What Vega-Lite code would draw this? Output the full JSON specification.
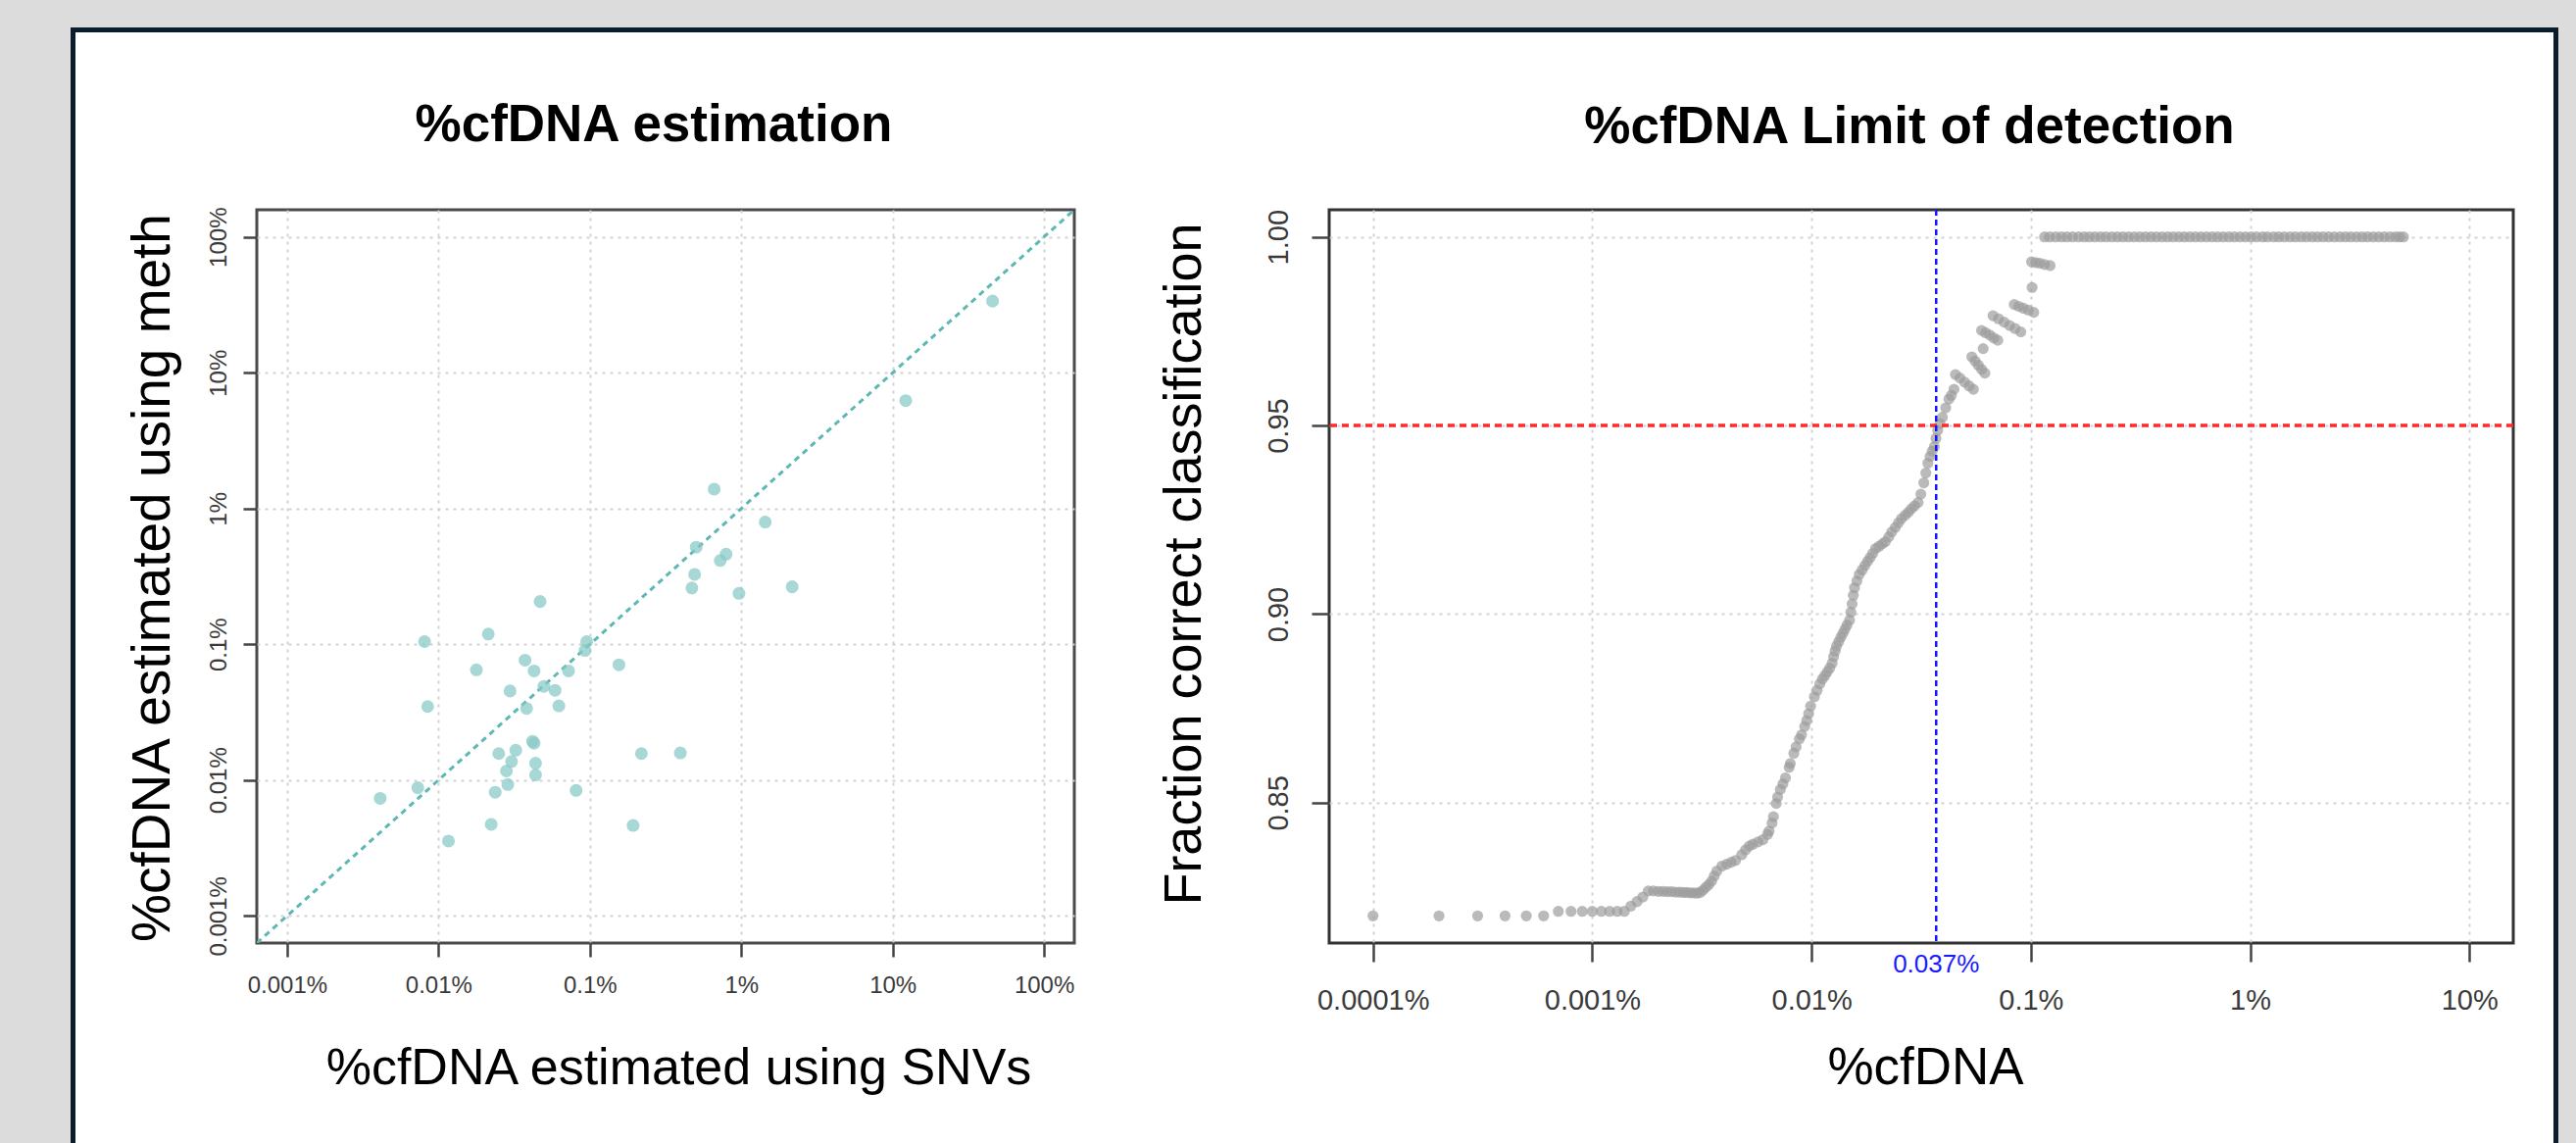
{
  "$schema": "https://vega.github.io/schema/vega-lite/v6.json",
  "background": "#ffffff",
  "padding": 0,
  "autosize": {"type": "pad"},
  "config": {
    "view": {"stroke": null},
    "font": "Liberation Sans",
    "axis": {
      "labelFont": "Liberation Sans", "titleFont": "Liberation Sans",
      "labelColor": "#3a3a3a", "titleColor": "#000000", "titleFontWeight": "normal",
      "grid": true, "gridColor": "#d2d2d2", "gridDash": [3, 5], "gridWidth": 2,
      "domain": false, "tickColor": "#444444", "tickWidth": 2.5,
      "labelFlush": false, "labelOverlap": false
    },
    "title": {"font": "Liberation Sans", "color": "#000000"}
  },
  "datasets": {
    "diag": [{"snv": 0.000630957, "meth": 0.000630957}, {"snv": 158.4893, "meth": 158.4893}],
    "scatter": [
      {"snv": 45.7, "meth": 33.7}, {"snv": 12.2, "meth": 6.23}, {"snv": 0.662, "meth": 1.39},
      {"snv": 1.44, "meth": 0.795}, {"snv": 0.504, "meth": 0.519}, {"snv": 0.794, "meth": 0.461},
      {"snv": 0.726, "meth": 0.414}, {"snv": 0.492, "meth": 0.327}, {"snv": 0.472, "meth": 0.26},
      {"snv": 0.966, "meth": 0.237}, {"snv": 2.17, "meth": 0.265}, {"snv": 0.0469, "meth": 0.2066},
      {"snv": 0.02133, "meth": 0.119}, {"snv": 0.00809, "meth": 0.1047}, {"snv": 0.0953, "meth": 0.1047},
      {"snv": 0.0929, "meth": 0.09}, {"snv": 0.0373, "meth": 0.0764}, {"snv": 0.1556, "meth": 0.0706},
      {"snv": 0.0178, "meth": 0.0649}, {"snv": 0.0428, "meth": 0.0636}, {"snv": 0.0723, "meth": 0.0636},
      {"snv": 0.0497, "meth": 0.049}, {"snv": 0.0297, "meth": 0.0453}, {"snv": 0.0589, "meth": 0.0458},
      {"snv": 0.00848, "meth": 0.0348}, {"snv": 0.0382, "meth": 0.0337}, {"snv": 0.0624, "meth": 0.0352},
      {"snv": 0.0418, "meth": 0.0193}, {"snv": 0.0428, "meth": 0.0187}, {"snv": 0.0324, "meth": 0.0166},
      {"snv": 0.025, "meth": 0.01567}, {"snv": 0.219, "meth": 0.01567}, {"snv": 0.396, "meth": 0.01585},
      {"snv": 0.0304, "meth": 0.0137}, {"snv": 0.0438, "meth": 0.0133}, {"snv": 0.0281, "meth": 0.01167},
      {"snv": 0.0438, "meth": 0.0109}, {"snv": 0.0073, "meth": 0.00879}, {"snv": 0.0287, "meth": 0.00927},
      {"snv": 0.0237, "meth": 0.00813}, {"snv": 0.0811, "meth": 0.0084}, {"snv": 0.00412, "meth": 0.00733},
      {"snv": 0.0223, "meth": 0.00472}, {"snv": 0.193, "meth": 0.00463}, {"snv": 0.01164, "meth": 0.00356}
    ],
    "lod": [
      {"pct": 0.0001, "frac": 0.82}, {"pct": 0.0002, "frac": 0.82}, {"pct": 0.0003, "frac": 0.82},
      {"pct": 0.0004, "frac": 0.82}, {"pct": 0.0005, "frac": 0.82}, {"pct": 0.0006, "frac": 0.82},
      {"pct": 0.0007, "frac": 0.8212}, {"pct": 0.0008, "frac": 0.8212}, {"pct": 0.0009, "frac": 0.8212},
      {"pct": 0.001, "frac": 0.8212}, {"pct": 0.0011, "frac": 0.8212}, {"pct": 0.0012, "frac": 0.8212},
      {"pct": 0.0013, "frac": 0.8212}, {"pct": 0.0014, "frac": 0.8212}, {"pct": 0.0015, "frac": 0.8226},
      {"pct": 0.0016, "frac": 0.8238}, {"pct": 0.0017, "frac": 0.825}, {"pct": 0.0018, "frac": 0.8266},
      {"pct": 0.0019, "frac": 0.8266}, {"pct": 0.002, "frac": 0.8265}, {"pct": 0.0021, "frac": 0.8265},
      {"pct": 0.0022, "frac": 0.8264}, {"pct": 0.0023, "frac": 0.8264}, {"pct": 0.0024, "frac": 0.8263},
      {"pct": 0.0025, "frac": 0.8263}, {"pct": 0.0026, "frac": 0.8262}, {"pct": 0.0027, "frac": 0.8262},
      {"pct": 0.0028, "frac": 0.8261}, {"pct": 0.0029, "frac": 0.8261}, {"pct": 0.003, "frac": 0.826},
      {"pct": 0.0031, "frac": 0.8262}, {"pct": 0.0032, "frac": 0.8268}, {"pct": 0.0033, "frac": 0.8276},
      {"pct": 0.0034, "frac": 0.8283}, {"pct": 0.0035, "frac": 0.8292}, {"pct": 0.0036, "frac": 0.8306},
      {"pct": 0.0037, "frac": 0.8319}, {"pct": 0.0039, "frac": 0.8332}, {"pct": 0.0041, "frac": 0.8337},
      {"pct": 0.0043, "frac": 0.8342}, {"pct": 0.0045, "frac": 0.8347}, {"pct": 0.0048, "frac": 0.8362},
      {"pct": 0.005, "frac": 0.8375}, {"pct": 0.0052, "frac": 0.8385}, {"pct": 0.0054, "frac": 0.839},
      {"pct": 0.0057, "frac": 0.8396}, {"pct": 0.006, "frac": 0.8402}, {"pct": 0.0063, "frac": 0.8416},
      {"pct": 0.0064, "frac": 0.8425}, {"pct": 0.0066, "frac": 0.8446}, {"pct": 0.0067, "frac": 0.8463},
      {"pct": 0.0069, "frac": 0.8498}, {"pct": 0.007, "frac": 0.8515}, {"pct": 0.0072, "frac": 0.8535},
      {"pct": 0.0074, "frac": 0.855}, {"pct": 0.0076, "frac": 0.8566}, {"pct": 0.0079, "frac": 0.8594},
      {"pct": 0.008, "frac": 0.8604}, {"pct": 0.0083, "frac": 0.8631}, {"pct": 0.0085, "frac": 0.8648},
      {"pct": 0.0088, "frac": 0.8669}, {"pct": 0.009, "frac": 0.868}, {"pct": 0.0093, "frac": 0.8702},
      {"pct": 0.0095, "frac": 0.8718}, {"pct": 0.0097, "frac": 0.8736}, {"pct": 0.0099, "frac": 0.8756},
      {"pct": 0.0103, "frac": 0.8781}, {"pct": 0.0106, "frac": 0.8798}, {"pct": 0.0109, "frac": 0.8815},
      {"pct": 0.0112, "frac": 0.8828}, {"pct": 0.0115, "frac": 0.8837}, {"pct": 0.0118, "frac": 0.8847},
      {"pct": 0.0121, "frac": 0.8857}, {"pct": 0.0124, "frac": 0.887}, {"pct": 0.0126, "frac": 0.8887},
      {"pct": 0.0128, "frac": 0.8902}, {"pct": 0.013, "frac": 0.8915}, {"pct": 0.0133, "frac": 0.8927},
      {"pct": 0.0136, "frac": 0.8939}, {"pct": 0.0139, "frac": 0.8949}, {"pct": 0.0142, "frac": 0.896},
      {"pct": 0.0145, "frac": 0.8971}, {"pct": 0.0149, "frac": 0.8984}, {"pct": 0.0151, "frac": 0.9005},
      {"pct": 0.0153, "frac": 0.9027}, {"pct": 0.0155, "frac": 0.905}, {"pct": 0.0157, "frac": 0.907},
      {"pct": 0.0161, "frac": 0.9088}, {"pct": 0.0165, "frac": 0.9105}, {"pct": 0.017, "frac": 0.9117},
      {"pct": 0.0175, "frac": 0.9129}, {"pct": 0.018, "frac": 0.914}, {"pct": 0.0185, "frac": 0.915},
      {"pct": 0.019, "frac": 0.9161}, {"pct": 0.0196, "frac": 0.9174}, {"pct": 0.0203, "frac": 0.918},
      {"pct": 0.021, "frac": 0.9186}, {"pct": 0.0217, "frac": 0.9192}, {"pct": 0.0225, "frac": 0.9205},
      {"pct": 0.0232, "frac": 0.9218}, {"pct": 0.0241, "frac": 0.923}, {"pct": 0.0249, "frac": 0.9242},
      {"pct": 0.0257, "frac": 0.9253}, {"pct": 0.0267, "frac": 0.9262}, {"pct": 0.0276, "frac": 0.927},
      {"pct": 0.0285, "frac": 0.9279}, {"pct": 0.0295, "frac": 0.9287}, {"pct": 0.0306, "frac": 0.9296},
      {"pct": 0.0315, "frac": 0.9318}, {"pct": 0.0325, "frac": 0.9348}, {"pct": 0.0332, "frac": 0.9374},
      {"pct": 0.0339, "frac": 0.94}, {"pct": 0.0347, "frac": 0.9418}, {"pct": 0.0355, "frac": 0.9432},
      {"pct": 0.0363, "frac": 0.9444}, {"pct": 0.0369, "frac": 0.9466}, {"pct": 0.0376, "frac": 0.9487},
      {"pct": 0.0385, "frac": 0.9505}, {"pct": 0.0395, "frac": 0.9522}, {"pct": 0.0409, "frac": 0.9547},
      {"pct": 0.0423, "frac": 0.957}, {"pct": 0.0434, "frac": 0.958}, {"pct": 0.0446, "frac": 0.9596},
      {"pct": 0.0453, "frac": 0.9635}, {"pct": 0.0475, "frac": 0.9626}, {"pct": 0.0499, "frac": 0.9615},
      {"pct": 0.0523, "frac": 0.9605}, {"pct": 0.0547, "frac": 0.9596}, {"pct": 0.0538, "frac": 0.9682},
      {"pct": 0.0557, "frac": 0.9671}, {"pct": 0.0576, "frac": 0.966}, {"pct": 0.0596, "frac": 0.9649},
      {"pct": 0.0617, "frac": 0.9639}, {"pct": 0.0606, "frac": 0.9704}, {"pct": 0.0596, "frac": 0.9752},
      {"pct": 0.0622, "frac": 0.9746}, {"pct": 0.065, "frac": 0.974}, {"pct": 0.0678, "frac": 0.9732},
      {"pct": 0.0707, "frac": 0.9726}, {"pct": 0.0672, "frac": 0.9791}, {"pct": 0.0712, "frac": 0.9783},
      {"pct": 0.0755, "frac": 0.9774}, {"pct": 0.08, "frac": 0.9765}, {"pct": 0.0848, "frac": 0.9757},
      {"pct": 0.09, "frac": 0.9748}, {"pct": 0.084, "frac": 0.9821}, {"pct": 0.0881, "frac": 0.9816},
      {"pct": 0.0925, "frac": 0.9811}, {"pct": 0.0973, "frac": 0.9806}, {"pct": 0.1031, "frac": 0.98},
      {"pct": 0.1013, "frac": 0.9866}, {"pct": 0.1007, "frac": 0.9934}, {"pct": 0.1053, "frac": 0.9932},
      {"pct": 0.11, "frac": 0.993}, {"pct": 0.1155, "frac": 0.9927}, {"pct": 0.1224, "frac": 0.9924},
      {"pct": 0.1155, "frac": 1}, {"pct": 0.122, "frac": 1}, {"pct": 0.13, "frac": 1}, {"pct": 0.138, "frac": 1},
      {"pct": 0.146, "frac": 1}, {"pct": 0.155, "frac": 1}, {"pct": 0.165, "frac": 1}, {"pct": 0.175, "frac": 1},
      {"pct": 0.185, "frac": 1}, {"pct": 0.196, "frac": 1}, {"pct": 0.208, "frac": 1}, {"pct": 0.22, "frac": 1},
      {"pct": 0.234, "frac": 1}, {"pct": 0.248, "frac": 1}, {"pct": 0.263, "frac": 1}, {"pct": 0.279, "frac": 1},
      {"pct": 0.296, "frac": 1}, {"pct": 0.314, "frac": 1}, {"pct": 0.333, "frac": 1}, {"pct": 0.353, "frac": 1},
      {"pct": 0.374, "frac": 1}, {"pct": 0.397, "frac": 1}, {"pct": 0.421, "frac": 1}, {"pct": 0.446, "frac": 1},
      {"pct": 0.473, "frac": 1}, {"pct": 0.501, "frac": 1}, {"pct": 0.531, "frac": 1}, {"pct": 0.563, "frac": 1},
      {"pct": 0.597, "frac": 1}, {"pct": 0.633, "frac": 1}, {"pct": 0.671, "frac": 1}, {"pct": 0.711, "frac": 1},
      {"pct": 0.754, "frac": 1}, {"pct": 0.8, "frac": 1}, {"pct": 0.848, "frac": 1}, {"pct": 0.899, "frac": 1},
      {"pct": 0.953, "frac": 1}, {"pct": 1.01, "frac": 1}, {"pct": 1.07, "frac": 1}, {"pct": 1.14, "frac": 1},
      {"pct": 1.2, "frac": 1}, {"pct": 1.28, "frac": 1}, {"pct": 1.35, "frac": 1}, {"pct": 1.43, "frac": 1},
      {"pct": 1.52, "frac": 1}, {"pct": 1.61, "frac": 1}, {"pct": 1.71, "frac": 1}, {"pct": 1.81, "frac": 1},
      {"pct": 1.92, "frac": 1}, {"pct": 2.03, "frac": 1}, {"pct": 2.15, "frac": 1}, {"pct": 2.28, "frac": 1},
      {"pct": 2.42, "frac": 1}, {"pct": 2.57, "frac": 1}, {"pct": 2.72, "frac": 1}, {"pct": 2.88, "frac": 1},
      {"pct": 3.06, "frac": 1}, {"pct": 3.24, "frac": 1}, {"pct": 3.43, "frac": 1}, {"pct": 3.64, "frac": 1},
      {"pct": 3.86, "frac": 1}, {"pct": 4.09, "frac": 1}, {"pct": 4.34, "frac": 1}, {"pct": 4.6, "frac": 1},
      {"pct": 4.8, "frac": 1}, {"pct": 5.0, "frac": 1}
    ],
    "hline": [{"frac": 0.95}],
    "vline": [{"pct": 0.037}],
    "lodlabel": [{"pct": 0.037, "frac": 0.807, "label": "0.037%"}],
    "none": []
  },
  "columns": 9,
  "bounds": "flush",
  "spacing": 0,
  "concat": [
    {"width": 72, "height": 28, "data": {"name": "none"}, "mark": "point", "view": {"fill": "#dcdcdc"}},
    {"width": 5, "height": 28, "data": {"name": "none"}, "mark": "point", "view": {"fill": "#dcdcdc"}},
    {"width": 185, "height": 28, "data": {"name": "none"}, "mark": "point", "view": {"fill": "#dcdcdc"}},
    {"width": 834, "height": 28, "data": {"name": "none"}, "mark": "point", "view": {"fill": "#dcdcdc"}},
    {"width": 260, "height": 28, "data": {"name": "none"}, "mark": "point", "view": {"fill": "#dcdcdc"}},
    {"width": 1208, "height": 28, "data": {"name": "none"}, "mark": "point", "view": {"fill": "#dcdcdc"}},
    {"width": 41, "height": 28, "data": {"name": "none"}, "mark": "point", "view": {"fill": "#dcdcdc"}},
    {"width": 5, "height": 28, "data": {"name": "none"}, "mark": "point", "view": {"fill": "#dcdcdc"}},
    {"width": 18, "height": 28, "data": {"name": "none"}, "mark": "point", "view": {"fill": "#dcdcdc"}},

    {"width": 72, "height": 5, "data": {"name": "none"}, "mark": "point", "view": {"fill": "#dcdcdc"}},
    {"width": 5, "height": 5, "data": {"name": "none"}, "mark": "point", "view": {"fill": "#0b1d2c"}},
    {"width": 185, "height": 5, "data": {"name": "none"}, "mark": "point", "view": {"fill": "#0b1d2c"}},
    {"width": 834, "height": 5, "data": {"name": "none"}, "mark": "point", "view": {"fill": "#0b1d2c"}},
    {"width": 260, "height": 5, "data": {"name": "none"}, "mark": "point", "view": {"fill": "#0b1d2c"}},
    {"width": 1208, "height": 5, "data": {"name": "none"}, "mark": "point", "view": {"fill": "#0b1d2c"}},
    {"width": 41, "height": 5, "data": {"name": "none"}, "mark": "point", "view": {"fill": "#0b1d2c"}},
    {"width": 5, "height": 5, "data": {"name": "none"}, "mark": "point", "view": {"fill": "#0b1d2c"}},
    {"width": 18, "height": 5, "data": {"name": "none"}, "mark": "point", "view": {"fill": "#dcdcdc"}},

    {"width": 72, "height": 181, "data": {"name": "none"}, "mark": "point", "view": {"fill": "#dcdcdc"}},
    {"width": 5, "height": 181, "data": {"name": "none"}, "mark": "point", "view": {"fill": "#0b1d2c"}},
    {"width": 185, "height": 181, "data": {"name": "none"}, "mark": "point"},
    {"width": 834, "height": 181, "data": {"name": "none"}, "mark": "point"},
    {"width": 260, "height": 181, "data": {"name": "none"}, "mark": "point"},
    {"width": 1208, "height": 181, "data": {"name": "none"}, "mark": "point"},
    {"width": 41, "height": 181, "data": {"name": "none"}, "mark": "point"},
    {"width": 5, "height": 181, "data": {"name": "none"}, "mark": "point", "view": {"fill": "#0b1d2c"}},
    {"width": 18, "height": 181, "data": {"name": "none"}, "mark": "point", "view": {"fill": "#dcdcdc"}},

    {"width": 72, "height": 952, "data": {"name": "none"}, "mark": "point", "view": {"fill": "#dcdcdc"}},
    {"width": 5, "height": 952, "data": {"name": "none"}, "mark": "point", "view": {"fill": "#0b1d2c"}},
    {"width": 185, "height": 952, "data": {"name": "none"}, "mark": "point"},
    {
      "width": 834,
      "height": 748,
      "view": {"stroke": "#4a4a4a", "strokeWidth": 3},
      "title": {"text": "%cfDNA estimation", "fontSize": 53, "fontWeight": "bold", "frame": "group", "baseline": "alphabetic", "offset": 14, "dx": -12},
      "layer": [
        {
          "data": {"name": "diag"},
          "mark": {"type": "line", "color": "#5cb8b3", "strokeWidth": 3, "strokeDash": [6, 5], "clip": true},
          "encoding": {
            "x": {
              "field": "snv", "type": "quantitative", "title": "%cfDNA estimated using SNVs",
              "scale": {"type": "log", "domain": [0.000630957, 158.4893], "nice": false},
              "axis": {
                "values": [0.001, 0.01, 0.1, 1, 10, 100], "labelExpr": "datum.value + '%'",
                "tickSize": 14, "labelPadding": 17, "labelFontSize": 24,
                "titleFontSize": 52, "titleBaseline": "alphabetic", "titleY": 143, "titleX": 430
              }
            },
            "y": {
              "field": "meth", "type": "quantitative", "title": "%cfDNA estimated using meth",
              "scale": {"type": "log", "domain": [0.000630957, 158.4893], "nice": false},
              "axis": {
                "values": [0.001, 0.01, 0.1, 1, 10, 100], "labelExpr": "datum.value + '%'",
                "labelAngle": 270, "labelAlign": "center", "labelBaseline": "alphabetic",
                "tickSize": 14, "labelPadding": 18, "labelFontSize": 24,
                "titleFontSize": 55, "titleAngle": 270, "titleAlign": "center", "titleBaseline": "alphabetic",
                "titleX": -90, "titleY": 375
              }
            }
          }
        },
        {
          "data": {"name": "scatter"},
          "mark": {"type": "circle", "size": 170, "color": "#86c9c6", "opacity": 0.72},
          "encoding": {
            "x": {"field": "snv", "type": "quantitative", "title": "%cfDNA estimated using SNVs"},
            "y": {"field": "meth", "type": "quantitative", "title": "%cfDNA estimated using meth"}
          }
        }
      ]
    },
    {"width": 260, "height": 952, "data": {"name": "none"}, "mark": "point"},
    {
      "width": 1208,
      "height": 748,
      "view": {"stroke": "#333333", "strokeWidth": 3},
      "title": {"text": "%cfDNA Limit of detection", "fontSize": 53, "fontWeight": "bold", "frame": "group", "baseline": "alphabetic", "offset": 14, "dx": -12},
      "layer": [
        {
          "data": {"name": "lod"},
          "mark": {"type": "circle", "size": 125, "color": "#9c9c9c", "opacity": 0.7},
          "encoding": {
            "x": {
              "field": "pct", "type": "quantitative", "title": "%cfDNA",
              "scale": {"type": "log", "domain": [0.0000630957, 15.84893], "nice": false},
              "axis": {
                "values": [0.0001, 0.001, 0.01, 0.1, 1, 10], "labelExpr": "datum.value + '%'",
                "tickSize": 19, "labelPadding": 25, "labelFontSize": 29,
                "titleFontSize": 53, "titleBaseline": "alphabetic", "titleY": 143, "titleX": 608
              }
            },
            "y": {
              "field": "frac", "type": "quantitative", "title": "Fraction correct classification",
              "scale": {"domain": [0.8128, 1.0072], "nice": false, "zero": false},
              "axis": {
                "values": [0.85, 0.9, 0.95, 1.0], "format": ".2f",
                "labelAngle": 270, "labelAlign": "center", "labelBaseline": "alphabetic",
                "tickSize": 18, "labelPadding": 25, "labelFontSize": 29,
                "titleFontSize": 54, "titleAngle": 270, "titleAlign": "center", "titleBaseline": "alphabetic",
                "titleX": -132, "titleY": 361
              }
            }
          }
        },
        {
          "data": {"name": "hline"},
          "mark": {"type": "rule", "color": "#ff2a2a", "strokeWidth": 3.5, "strokeDash": [7, 5]},
          "encoding": {"y": {"field": "frac", "type": "quantitative", "title": "Fraction correct classification"}}
        },
        {
          "data": {"name": "vline"},
          "mark": {"type": "rule", "color": "#1515ff", "strokeWidth": 2.5, "strokeDash": [6, 4]},
          "encoding": {"x": {"field": "pct", "type": "quantitative", "title": "%cfDNA"}}
        },
        {
          "data": {"name": "lodlabel"},
          "mark": {"type": "text", "color": "#1a1aff", "fontSize": 26, "align": "center", "baseline": "middle"},
          "encoding": {
            "x": {"field": "pct", "type": "quantitative", "title": "%cfDNA"},
            "y": {"field": "frac", "type": "quantitative", "title": "Fraction correct classification"},
            "text": {"field": "label"}
          }
        }
      ]
    },
    {"width": 41, "height": 952, "data": {"name": "none"}, "mark": "point"},
    {"width": 5, "height": 952, "data": {"name": "none"}, "mark": "point", "view": {"fill": "#0b1d2c"}},
    {"width": 18, "height": 952, "data": {"name": "none"}, "mark": "point", "view": {"fill": "#dcdcdc"}}
  ]
}
